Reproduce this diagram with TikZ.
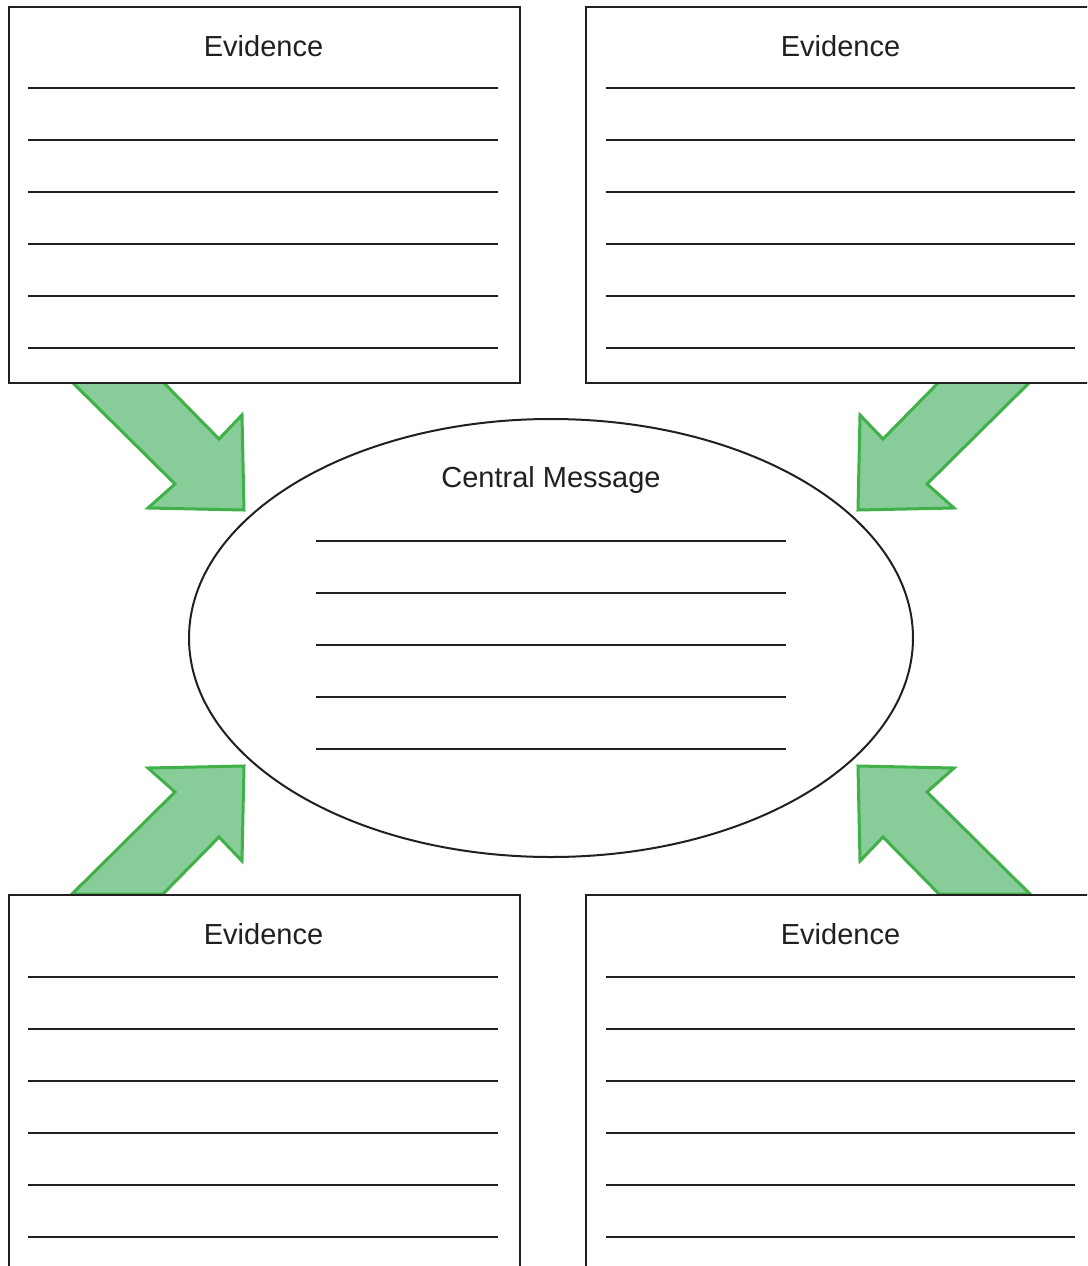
\documentclass[tikz,border=0pt]{standalone}
\usepackage{fontspec}
\setmainfont{Liberation Sans}
\usetikzlibrary{shapes.geometric}
\definecolor{inkc}{HTML}{231F20}
\definecolor{arrowfill}{HTML}{88CC99}
\definecolor{arrowline}{HTML}{40B048}
\begin{document}
\begin{tikzpicture}[x=1pt,y=-1pt,
  ink/.style={draw=inkc, line width=2pt},
  evbox/.style={ink, fill=white, minimum width=511pt, minimum height=376pt, inner sep=0pt, anchor=north west},
  cmellipse/.style={ink, ellipse, fill=white, minimum width=724pt, minimum height=438pt, inner sep=0pt},
  rule/.style={draw=inkc, line width=2pt},
  lbl/.style={font=\fontsize{29}{34}\selectfont, text=inkc, inner sep=0pt, anchor=base},
  fatarrow/.style={draw=arrowline, fill=arrowfill, line width=3pt, line join=miter, miter limit=10}]
\useasboundingbox (0,0) rectangle (1087,1266);
\clip (0,0) rectangle (1087,1266);
% arrows
\draw[fatarrow] (72,382) -- (175,484) -- (148,508) -- (244,510) -- (242,415) -- (219,439) -- (163,382) -- cycle;
\draw[fatarrow] (1030,382) -- (927,484) -- (954,508) -- (858,510) -- (860,415) -- (883,439) -- (939,382) -- cycle;
\draw[fatarrow] (72,894) -- (175,792) -- (148,768) -- (244,766) -- (242,861) -- (219,837) -- (163,894) -- cycle;
\draw[fatarrow] (1030,894) -- (927,792) -- (954,768) -- (858,766) -- (860,861) -- (883,837) -- (939,894) -- cycle;
% boxes
\node[evbox] (tl) at (8,6) {};
\node[evbox] (tr) at (585,6) {};
\node[evbox] (bl) at (8,894) {};
\node[evbox] (br) at (585,894) {};
\node[cmellipse] (cm) at (551,638) {};
% labels
\node[lbl] (tlt) at (263.5,56) {Evidence};
\node[lbl] (trt) at (840.5,56) {Evidence};
\node[lbl] (blt) at (263.5,944) {Evidence};
\node[lbl] (brt) at (840.5,944) {Evidence};
\node[lbl] (cmt) at (551,487) {Central Message};
% writing lines
\foreach \k in {0,...,5}{
  \draw[rule] (28,88+52*\k) -- (498,88+52*\k);
  \draw[rule] (606,88+52*\k) -- (1075,88+52*\k);
  \draw[rule] (28,977+52*\k) -- (498,977+52*\k);
  \draw[rule] (606,977+52*\k) -- (1075,977+52*\k);
}
\foreach \k in {0,...,4}{
  \draw[rule] (316,541+52*\k) -- (786,541+52*\k);
}
\end{tikzpicture}
\end{document}
